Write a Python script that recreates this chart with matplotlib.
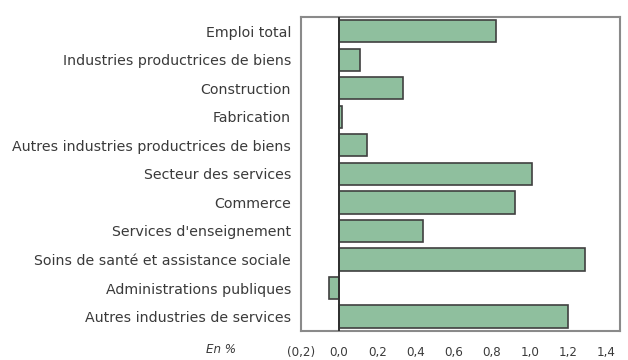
import matplotlib.pyplot as plt
import numpy as np

categories = [
    "Emploi total",
    "Industries productrices de biens",
    "Construction",
    "Fabrication",
    "Autres industries productrices de biens",
    "Secteur des services",
    "Commerce",
    "Services d'enseignement",
    "Soins de santé et assistance sociale",
    "Administrations publiques",
    "Autres industries de services",
]
values = [0.82, 0.11, 0.335, 0.014, 0.145, 1.01, 0.92, 0.44, 1.29, -0.05, 1.20]
xticks = [-0.2, 0.0, 0.2, 0.4, 0.6, 0.8, 1.0, 1.2, 1.4]
xticklabels = ["(0,2)", "0,0", "0,2", "0,4", "0,6", "0,8", "1,0", "1,2", "1,4"]

plt.rcParams['font.family'] = ['DejaVu Sans']

fig = plt.figure(figsize=(6.28, 3.6), dpi=100)
ax = fig.add_axes([0.479, 0.081, 0.508, 0.872])

y = np.arange(len(categories))
ax.barh(y, values, height=0.78, color='#8fbf9e', edgecolor='#404040', linewidth=1.2, zorder=2)
ax.axvline(0, color='#303030', linewidth=1.4, zorder=3)

ax.set_ylim(len(categories) - 0.5, -0.5)
ax.set_xlim(-0.2, 1.47)
ax.set_yticks(y)
ax.set_yticklabels(categories, fontsize=10.2, color='#3a3a3a')
ax.set_xticks(xticks)
ax.set_xticklabels(xticklabels, fontsize=8.6, color='#3a3a3a')
ax.tick_params(axis='both', length=0)
ax.tick_params(axis='y', pad=7)
ax.tick_params(axis='x', pad=11)

for s in ax.spines.values():
    s.set_color('#8a8a8a')
    s.set_linewidth(1.5)

fig.text(0.352, 0.019, "En %", fontsize=8.6, style='italic', color='#3a3a3a', ha='center')

fig.savefig("out.png", dpi=100)
